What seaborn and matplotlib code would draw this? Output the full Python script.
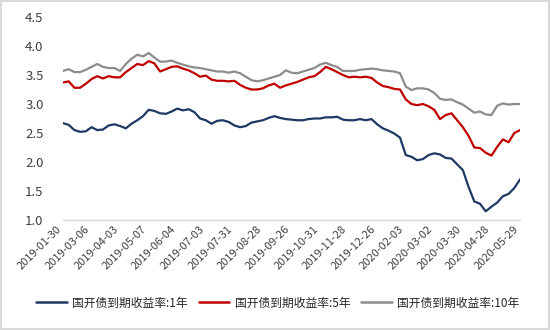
import numpy as np
import pandas as pd
import matplotlib
matplotlib.use("Agg")
import matplotlib.pyplot as plt
import matplotlib.transforms as mtransforms
from matplotlib.lines import Line2D
import seaborn as sns

# trading-day index (every 4 trading days) and yields
day_step = 4
tick_labels = ["2019-01-30", "2019-03-06", "2019-04-03", "2019-05-07", "2019-06-04",
               "2019-07-03", "2019-07-31", "2019-08-28", "2019-09-26", "2019-10-31",
               "2019-11-28", "2019-12-26", "2020-02-03", "2020-03-02", "2020-03-30",
               "2020-04-28", "2020-05-29"]
tick_every = 20

y_1y = [2.67, 2.64, 2.55, 2.52, 2.53, 2.60, 2.55, 2.56, 2.63, 2.65,
        2.62, 2.58, 2.66, 2.72, 2.79, 2.90, 2.88, 2.84, 2.83, 2.87,
        2.92, 2.89, 2.91, 2.86, 2.75, 2.72, 2.66, 2.71, 2.72, 2.69,
        2.63, 2.60, 2.62, 2.68, 2.70, 2.72, 2.76, 2.79, 2.76, 2.74,
        2.73, 2.72, 2.72, 2.74, 2.75, 2.75, 2.77, 2.77, 2.78, 2.73,
        2.72, 2.72, 2.74, 2.72, 2.74, 2.65, 2.58, 2.54, 2.49, 2.42,
        2.12, 2.09, 2.03, 2.05, 2.12, 2.15, 2.13, 2.07, 2.06, 1.96,
        1.86, 1.57, 1.32, 1.28, 1.15, 1.23, 1.30, 1.41, 1.45, 1.55,
        1.70]
y_5y = [3.37, 3.39, 3.28, 3.28, 3.35, 3.43, 3.48, 3.44, 3.48, 3.46,
        3.46, 3.55, 3.62, 3.69, 3.67, 3.74, 3.70, 3.56, 3.60, 3.64,
        3.65, 3.61, 3.58, 3.53, 3.47, 3.49, 3.42, 3.40, 3.40, 3.39,
        3.40, 3.33, 3.28, 3.25, 3.25, 3.27, 3.32, 3.35, 3.28, 3.32,
        3.35, 3.38, 3.42, 3.46, 3.48, 3.55, 3.64, 3.60, 3.55, 3.50,
        3.46, 3.47, 3.46, 3.47, 3.45, 3.37, 3.31, 3.29, 3.26, 3.25,
        3.08, 3.00, 2.98, 3.00, 2.96, 2.90, 2.74, 2.81, 2.84, 2.72,
        2.60, 2.45, 2.25, 2.24, 2.16, 2.11, 2.26, 2.39, 2.34, 2.50,
        2.55]
y_10y = [3.57, 3.60, 3.55, 3.55, 3.59, 3.64, 3.69, 3.64, 3.62, 3.62,
         3.57, 3.69, 3.78, 3.85, 3.82, 3.88, 3.80, 3.73, 3.73, 3.75,
         3.71, 3.68, 3.65, 3.63, 3.62, 3.60, 3.58, 3.56, 3.56, 3.54,
         3.56, 3.53, 3.47, 3.41, 3.39, 3.41, 3.44, 3.47, 3.50, 3.58,
         3.54, 3.53, 3.56, 3.59, 3.62, 3.68, 3.71, 3.67, 3.64, 3.57,
         3.57, 3.57, 3.59, 3.60, 3.61, 3.60, 3.58, 3.57, 3.56, 3.53,
         3.30, 3.24, 3.27, 3.27, 3.25, 3.19, 3.09, 3.07, 3.08, 3.03,
         2.99, 2.92, 2.85, 2.87, 2.82, 2.81, 2.97, 3.01, 2.99, 3.00,
         3.00]

series_names = ["国开债到期收益率:1年", "国开债到期收益率:5年", "国开债到期收益率:10年"]
colors = ["#1F3864", "#C00000", "#8C8C8C"]

days = np.arange(len(y_1y)) * day_step
df = pd.concat([
    pd.DataFrame({"day": days, "value": vals, "series": name})
    for name, vals in zip(series_names, [y_1y, y_5y, y_10y])
], ignore_index=True)

sns.set_theme(style="white")
plt.rcParams["font.family"] = ["Noto Sans CJK SC", "DejaVu Sans"]

fig = plt.figure(figsize=(5.5, 3.3), dpi=100)
fig.patch.set_facecolor("white")
fig.patch.set_edgecolor("#D9D9D9")
fig.patch.set_linewidth(1.5)
ax = fig.add_axes([63 / 550, 1 - 220 / 330, (520 - 63) / 550, (220 - 17) / 330])

sns.lineplot(data=df, x="day", y="value", hue="series", hue_order=series_names,
             palette=colors, linewidth=1.6, ax=ax, legend=False)

ax.set_xlim(0, (len(tick_labels) - 1) * tick_every)
ax.set_ylim(1.0, 4.5)
yt = np.arange(1.0, 4.51, 0.5)
ax.set_yticks(yt)
ax.set_yticklabels([f"{v:.1f}" for v in yt], fontsize=9.5, color="#404040")
ax.set_xticks(np.arange(len(tick_labels)) * tick_every)
ax.set_xticklabels(tick_labels, rotation=45, ha="right", fontsize=8, color="#404040")
offset = mtransforms.ScaledTranslation(13 / 100, -4 / 100, fig.dpi_scale_trans)
for lbl in ax.get_xticklabels():
    lbl.set_transform(lbl.get_transform() + offset)
ax.tick_params(axis="y", length=0, pad=14)
ax.tick_params(axis="x", length=0, pad=3)
ax.set_xlabel("")
ax.set_ylabel("")
for side in ["left", "right", "top"]:
    ax.spines[side].set_visible(False)
ax.spines["bottom"].set_color("#D9D9D9")
ax.spines["bottom"].set_linewidth(1.0)
ax.grid(False)

handles = [Line2D([0], [0], color=c, linewidth=1.8) for c in colors]
fig.legend(handles, series_names, loc="center", bbox_to_anchor=(0.505, 1 - 303 / 330),
           ncol=3, frameon=False, fontsize=8.5, handlelength=2.6, handletextpad=0.45,
           columnspacing=0.9, labelcolor="#262626")

fig.savefig("out.png", dpi=100, facecolor=fig.get_facecolor(), edgecolor=fig.get_edgecolor())
